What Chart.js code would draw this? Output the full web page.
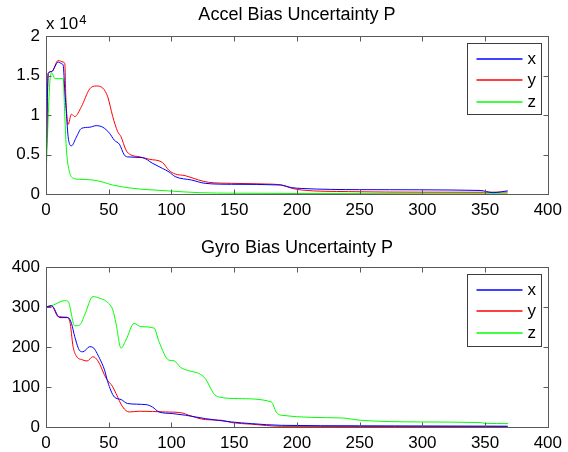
<!DOCTYPE html>
<html><head><meta charset="utf-8">
<script src="https://cdn.jsdelivr.net/npm/chart.js@4/dist/chart.umd.min.js"></script>
<style>
html,body{margin:0;padding:0;background:#fff;overflow:hidden;width:568px;height:452px}
canvas{display:block;position:absolute;left:0}
#c1{top:0}#c2{top:226px}
</style></head>
<body>
<canvas id="c1" width="568" height="226"></canvas>
<canvas id="c2" width="568" height="226"></canvas>
<script>
// ---- Data ----
const seriesNames = ['x', 'y', 'z'];
const xTickValues = [0, 50, 100, 150, 200, 250, 300, 350, 400];
const accelTickValues = [0, 5000, 10000, 15000, 20000];
const gyroTickValues = [0, 100, 200, 300, 400];

// Accel Bias Uncertainty P
const accelXt = [0, 1.8, 4.5, 9.7, 12.4, 13.7, 15, 16.3, 17.6, 20.3, 24.2, 28.2, 34.8, 40, 45.3, 50.6, 54.5, 58.5, 62.4, 65, 76.9, 84.8, 92.7, 98, 103, 116, 126.9, 148, 187, 196, 204, 250, 346, 356.5, 368];
const accelXv = [2000, 15300, 15500, 16700, 16500, 16300, 13000, 10200, 7300, 6100, 7200, 8300, 8450, 8650, 8450, 7700, 6800, 6300, 4950, 4700, 4600, 3900, 3250, 2800, 2200, 1770, 1350, 1230, 1140, 800, 700, 550, 450, 170, 400];

const accelYt = [0, 1.8, 4.5, 9.7, 13.7, 15, 15.8, 17.6, 20.3, 22.9, 28.2, 34.8, 40, 45.3, 49.2, 53.2, 57.1, 59.8, 63.7, 67.7, 74.3, 82.2, 92.7, 98, 103, 111, 121.7, 129.6, 148, 174, 187.5, 196, 204, 241, 300, 348.6, 368];
const accelYv = [2000, 15300, 15500, 16900, 16700, 16500, 12300, 8800, 10100, 9800, 11050, 13300, 13670, 13400, 12300, 9800, 7900, 7250, 5570, 4940, 4720, 4400, 4000, 3000, 2530, 2320, 1770, 1480, 1350, 1270, 1140, 720, 500, 300, 230, 220, 250];

const accelZt = [0, 3, 4.5, 7.1, 13.7, 15, 16.3, 18.4, 21.6, 26.9, 37.4, 45, 53, 69, 95, 122, 150, 200, 300, 368];
const accelZv = [2200, 14000, 15350, 14600, 14600, 9800, 5570, 3000, 2000, 1860, 1770, 1520, 1140, 720, 420, 170, 100, 60, 30, 30];

// Gyro Bias Uncertainty P
const gyroXt = [0, 4.5, 11, 17.6, 20.3, 22.9, 26.9, 29.5, 34.8, 37.4, 42.7, 46.7, 49.2, 54.5, 59.8, 65, 79.6, 84.8, 90.1, 100.6, 111.2, 127, 148, 163.8, 187.5, 250, 368];
const gyroXv = [300, 303, 273.5, 273.5, 259, 226, 190.7, 188, 200.8, 199, 171.6, 142, 113, 75, 68.7, 58.7, 56, 50, 37.6, 33.6, 29.4, 21, 12.6, 8.4, 4.2, 3, 2];

const gyroYt = [0, 4.5, 9.7, 16.3, 19, 21.6, 24.2, 29.5, 32.7, 37.4, 41.3, 48, 53.2, 55.8, 61.1, 66.4, 74.3, 95.3, 108.6, 113.8, 127, 140, 148, 163.8, 187.5, 368];
const gyroYv = [300, 303, 276, 274.5, 263.5, 200.8, 177.4, 167.4, 165, 175.7, 165.6, 121.5, 100.4, 83.8, 50.2, 37.6, 39.4, 37.6, 35.1, 29.4, 18.5, 16.8, 11, 7, 1.7, 1];

const gyroZt = [0, 5.8, 15, 17.6, 22.9, 26.9, 30.8, 37.4, 42.7, 48, 53.2, 55.8, 59.8, 63.7, 70.3, 75.6, 86.2, 90.1, 98, 102, 107.3, 113.8, 121.7, 127, 133.6, 137.5, 153.3, 179.6, 183.5, 187.5, 235.4, 251, 298.6, 346, 350, 368.4];
const gyroZv = [299.6, 305, 316, 314, 253, 255, 280, 326, 322, 314, 293, 259, 197, 217.5, 259, 251, 247, 213, 167, 165.6, 149, 140.6, 134, 121, 84, 75.3, 71, 62.7, 37.6, 29.4, 22.6, 16.8, 12.6, 11, 9.2, 8.4];

const seriesColors = ['#0000ff', '#ff0000', '#00ff00'];

// ---- helpers ----
const FONT = "'Liberation Sans', Arial, Helvetica, sans-serif";
function pts(t, v) { return t.map((x, i) => ({x: x, y: v[i]})); }
function ds(label, t, v, color) {
  return { label, data: pts(t, v), borderColor: color, backgroundColor: color,
    borderWidth: 1, pointRadius: 0, fill: false, cubicInterpolationMode: 'monotone' };
}

function matlabPlugin(opt) {
  return {
    id: 'matlabDecor',
    afterDraw(chart) {
      const ctx = chart.ctx, a = chart.chartArea;
      const xs = chart.scales.x, ys = chart.scales.y;
      const L = Math.round(a.left) + 0.5, R = Math.round(a.right) + 0.5;
      const T = Math.round(a.top) + 0.5, B = Math.round(a.bottom) + 0.5;
      ctx.save();
      ctx.strokeStyle = '#5a5a5a';
      ctx.lineWidth = 1;
      ctx.strokeRect(L, T, R - L, B - T);
      ctx.beginPath();
      opt.xTicks.forEach(v => {
        const p = Math.round(xs.getPixelForValue(v)) + 0.5;
        ctx.moveTo(p, B); ctx.lineTo(p, B - 5);
        ctx.moveTo(p, T); ctx.lineTo(p, T + 5);
      });
      opt.yTicks.forEach(v => {
        const p = Math.round(ys.getPixelForValue(v)) + 0.5;
        ctx.moveTo(L, p); ctx.lineTo(L + 5, p);
        ctx.moveTo(R, p); ctx.lineTo(R - 5, p);
      });
      ctx.stroke();

      // title
      ctx.fillStyle = '#000';
      ctx.font = '18px ' + FONT;
      ctx.textAlign = 'center';
      ctx.textBaseline = 'alphabetic';
      ctx.fillText(opt.title, (a.left + a.right) / 2, a.top - opt.titleGap);

      // exponent label
      if (opt.exponent) {
        ctx.textAlign = 'left';
        ctx.font = '17px ' + FONT;
        ctx.fillText('x 10', a.left, a.top - 7.5);
        const w = ctx.measureText('x 10').width;
        ctx.font = '13px ' + FONT;
        ctx.fillText(opt.exponent, a.left + w + 1, a.top - 12.5);
      }

      // legend
      const lw = 74, lh = opt.legendH;
      const lx = Math.round(a.right - 81) + 0.5, ly = Math.round(a.top + 7) + 0.5;
      ctx.fillStyle = '#fff';
      ctx.fillRect(lx, ly, lw, lh);
      ctx.strokeStyle = '#3c3c3c';
      ctx.strokeRect(lx, ly, lw, lh);
      ctx.font = '17px ' + FONT;
      ctx.textAlign = 'left';
      ctx.textBaseline = 'middle';
      chart.data.datasets.forEach((d, i) => {
        const cy = Math.round(ly + 15 + i * 21.7);
        ctx.strokeStyle = d.borderColor;
        ctx.lineWidth = 1.3;
        ctx.beginPath();
        ctx.moveTo(lx + 9, cy); ctx.lineTo(lx + 55, cy);
        ctx.stroke();
        ctx.fillStyle = '#000';
        ctx.fillText(d.label, lx + 60, cy);
      });
      ctx.restore();
    }
  };
}

function makeChart(id, datasets, yMax, yTickCb, opt) {
  return new Chart(document.getElementById(id), {
    type: 'line',
    data: { datasets },
    options: {
      responsive: false,
      animation: false,
      devicePixelRatio: 1,
      layout: { padding: { top: opt.padTop, right: 17, left: 0, bottom: 0 } },
      plugins: { legend: { display: false }, title: { display: false }, tooltip: { enabled: false } },
      scales: {
        x: {
          type: 'linear', min: 0, max: 400,
          grid: { display: false, drawTicks: false },
          border: { display: false },
          afterFit: s => { s.height = opt.xAxisH; },
          afterBuildTicks: s => { s.ticks = xTickValues.map(v => ({ value: v })); },
          ticks: { autoSkip: false, maxRotation: 0, padding: 6, color: '#000',
            font: { family: FONT, size: 17 } }
        },
        y: {
          type: 'linear', min: 0, max: yMax,
          grid: { display: false, drawTicks: false },
          border: { display: false },
          afterFit: s => { s.width = 46; },
          afterBuildTicks: s => { s.ticks = opt.yTicks.map(v => ({ value: v })); },
          ticks: { padding: 6, color: '#000', callback: yTickCb,
            font: { family: FONT, size: 17 } }
        }
      }
    },
    plugins: [matlabPlugin(opt)]
  });
}

makeChart('c1', [
  ds(seriesNames[0], accelXt, accelXv, seriesColors[0]),
  ds(seriesNames[1], accelYt, accelYv, seriesColors[1]),
  ds(seriesNames[2], accelZt, accelZv, seriesColors[2])
], 20000, v => String(v / 10000), {
  padTop: 36, xAxisH: 32, title: 'Accel Bias Uncertainty P', titleGap: 16,
  exponent: '4', legendH: 71, xTicks: xTickValues, yTicks: accelTickValues
});

makeChart('c2', [
  ds(seriesNames[0], gyroXt, gyroXv, seriesColors[0]),
  ds(seriesNames[1], gyroYt, gyroYv, seriesColors[1]),
  ds(seriesNames[2], gyroZt, gyroZv, seriesColors[2])
], 400, v => String(v), {
  padTop: 41, xAxisH: 25, title: 'Gyro Bias Uncertainty P', titleGap: 14,
  exponent: null, legendH: 72, xTicks: xTickValues, yTicks: gyroTickValues
});
</script>
</body></html>
